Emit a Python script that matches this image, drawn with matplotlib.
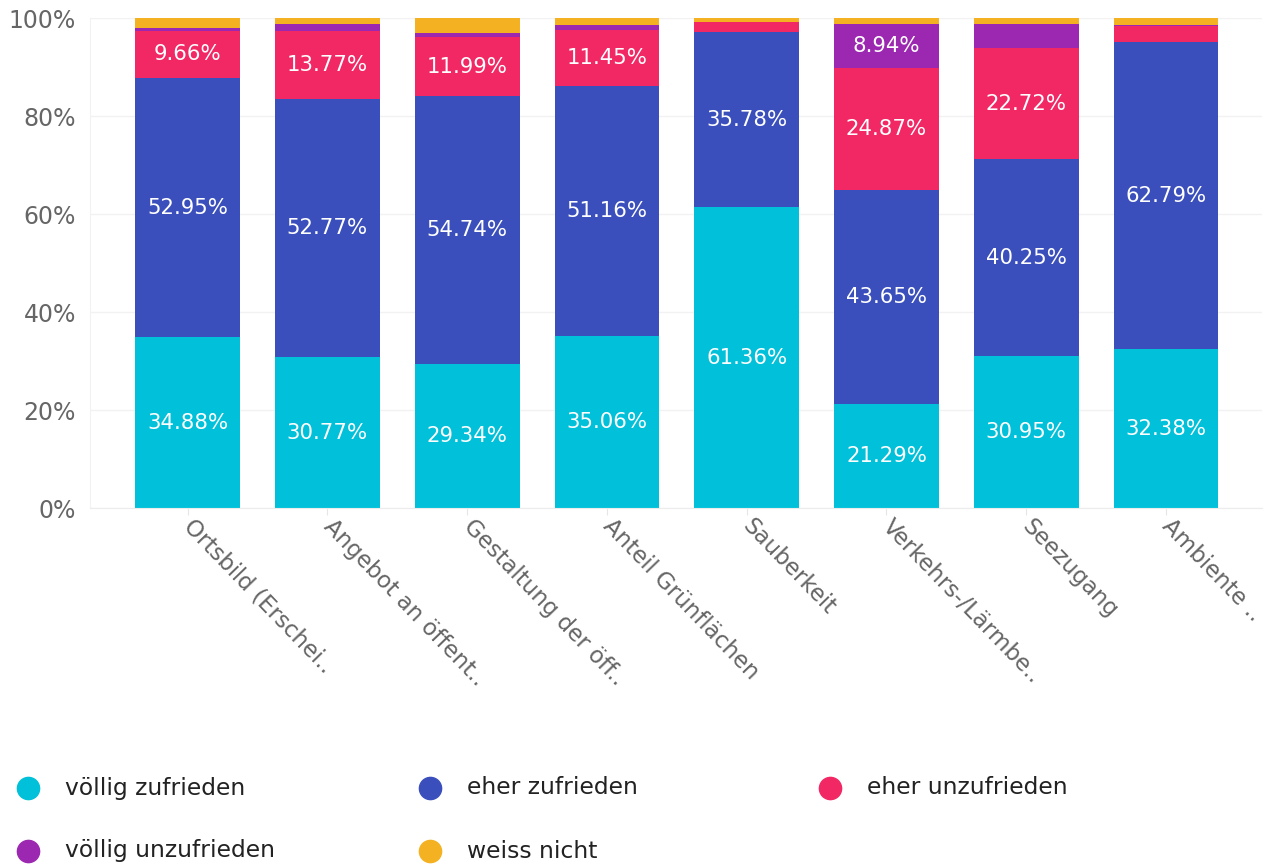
import numpy as np
import matplotlib.pyplot as plt
import matplotlib.transforms as mtransforms
from matplotlib.lines import Line2D

plt.rcParams['font.family'] = ['DejaVu Sans']

categories = [
    "Ortsbild (Erschei..",
    "Angebot an öffent..",
    "Gestaltung der öff..",
    "Anteil Grünflächen",
    "Sauberkeit",
    "Verkehrs-/Lärmbe..",
    "Seezugang",
    "Ambiente ..",
]
series_names = ["völlig zufrieden", "eher zufrieden", "eher unzufrieden",
                "völlig unzufrieden", "weiss nicht"]
voellig_zufrieden = [34.88, 30.77, 29.34, 35.06, 61.36, 21.29, 30.95, 32.38]
eher_zufrieden = [52.95, 52.77, 54.74, 51.16, 35.78, 43.65, 40.25, 62.79]
eher_unzufrieden = [9.66, 13.77, 11.99, 11.45, 2.00, 24.87, 22.72, 3.30]
voellig_unzufrieden = [0.60, 1.60, 0.93, 0.87, 0.00, 8.94, 4.88, 0.20]
weiss_nicht = [1.91, 1.09, 3.00, 1.46, 0.86, 1.25, 1.20, 1.33]
colors = ["#00C1D9", "#3A4FBC", "#F22865", "#9C27B0", "#F4B223"]

values = [voellig_zufrieden, eher_zufrieden, eher_unzufrieden,
          voellig_unzufrieden, weiss_nicht]

fig = plt.figure(figsize=(12.65, 8.67), dpi=100)
ax = fig.add_axes([0.071, 0.414, 0.927, 0.565])

x = np.arange(len(categories))
bottom = np.zeros(len(categories))
for vals, col in zip(values, colors):
    vals = np.array(vals)
    ax.bar(x, vals, bottom=bottom, width=0.75, color=col, zorder=2)
    for xi, b, v in zip(x, bottom, vals):
        if v >= 8:
            ax.text(xi, b + v / 2, f"{v:.2f}%", ha="center", va="center",
                    color="white", fontsize=15.3, zorder=3)
    bottom += vals

ax.set_xlim(-0.7, 7.69)
ax.set_ylim(0, 100)
ax.set_yticks(np.arange(0, 101, 20))
ax.set_yticklabels([f"{v}%" for v in range(0, 101, 20)])
ax.grid(axis="y", color="#f2f2f2", linewidth=1, zorder=0)
for s in ["top", "right"]:
    ax.spines[s].set_visible(False)
ax.spines["left"].set_color("#f2f2f2")
ax.spines["bottom"].set_color("#ececec")
ax.tick_params(axis="y", length=0, labelsize=17, labelcolor="#666666", pad=10)
ax.tick_params(axis="x", length=5, color="#e6e6e6", labelsize=16.5,
               labelcolor="#666666", pad=2)
ax.set_xticks(x)
ax.set_xticklabels(categories, rotation=-46, ha="left", rotation_mode="anchor")
shift = mtransforms.ScaledTranslation(8 / 100, 3 / 100, fig.dpi_scale_trans)
for lbl in ax.get_xticklabels():
    lbl.set_transform(lbl.get_transform() + shift)

# legend, laid out row by row
leg_pos = [(28, 788), (430, 788), (830, 788), (28, 851), (430, 851)]
W, H = 1265, 867
for (px, py), name, col in zip(leg_pos, series_names, colors):
    fig.add_artist(Line2D([px / W], [1 - py / H], marker="o", markersize=16,
                          color=col, linestyle="none", transform=fig.transFigure))
    fig.text((px + 37) / W, 1 - py / H, name, va="center", ha="left",
             fontsize=16.8, color="#222222")

fig.savefig("out.png", dpi=100)
